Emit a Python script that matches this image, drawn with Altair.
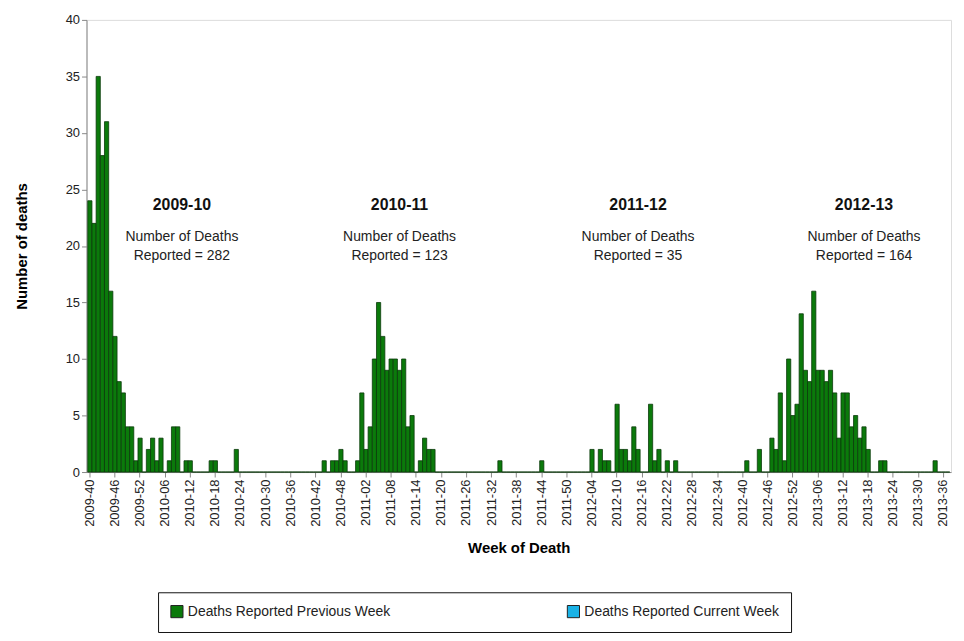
import pandas as pd
import altair as alt

# week labels 2009-40 .. 2013-37 (MMWR weeks, 52 per year)
weeks = [f"2009-{w:02d}" for w in range(40, 53)]
for yr in (2010, 2011, 2012):
    weeks += [f"{yr}-{w:02d}" for w in range(1, 53)]
weeks += [f"2013-{w:02d}" for w in range(1, 38)]

deaths = [0] * len(weeks)

# season 2009-10, starting at week index 0
s1_start = 0
s1 = [24, 22, 35, 28, 31, 16, 12, 8, 7, 4, 4, 1, 3, 0, 2, 3, 1, 3, 0, 1, 4, 4, 0, 1, 1,
      0, 0, 0, 0, 1, 1, 0, 0, 0, 0, 2]
# season 2010-11
s2_start = 56
s2 = [1, 0, 1, 1, 2, 1, 0, 0, 1, 7, 2, 4, 10, 15, 12, 9, 10, 10, 9, 10, 4, 5, 0, 1, 3, 2, 2]
# season 2011-12
s3_start = 98
s3 = [1, 0, 0, 0, 0, 0, 0, 0, 0, 0, 1, 0, 0, 0, 0, 0, 0, 0, 0, 0, 0, 0,
      2, 0, 2, 1, 1, 0, 6, 2, 2, 1, 4, 2, 0, 0, 6, 1, 2, 0, 1, 0, 1]
# season 2012-13
s4_start = 157
s4 = [1, 0, 0, 2, 0, 0, 3, 2, 7, 1, 10, 5, 6, 14, 9, 8, 16, 9, 9, 8, 9, 7, 3, 7, 7, 4, 5, 3, 4, 2,
      0, 0, 1, 1, 0, 0, 0, 0, 0, 0, 0, 0, 0, 0, 0, 1]

for start, vals in [(s1_start, s1), (s2_start, s2), (s3_start, s3), (s4_start, s4)]:
    for i, v in enumerate(vals):
        deaths[start + i] = v

tick_weeks = weeks[::6]

season_labels = ["2009-10", "2010-11", "2011-12", "2012-13"]
season_totals = [282, 123, 35, 164]
season_text_weeks = ["2010-10", "2011-10", "2012-15", "2013-17"]

df = pd.DataFrame({"week": weeks, "deaths": deaths,
                   "series": "Deaths Reported Previous Week"})
ann = pd.DataFrame({"week": season_text_weeks, "season": season_labels,
                    "line1": ["Number of Deaths"] * 4,
                    "line2": [f"Reported = {t}" for t in season_totals]})

FONT = "Liberation Sans"
x_enc = alt.X("week:O", sort=weeks, title="Week of Death",
              scale=alt.Scale(domain=weeks, paddingInner=0, paddingOuter=0.3),
              axis=alt.Axis(values=tick_weeks, labelAngle=-90, labelFontSize=13,
                            labelColor="#222", titleFontSize=15, titleFontWeight="bold",
                            titlePadding=14, domainColor="#888", tickColor="#888"))

bars = alt.Chart(df).mark_bar(stroke="#0b3a0b", strokeWidth=0.8).encode(
    x=x_enc,
    y=alt.Y("deaths:Q", title="Number of deaths",
            scale=alt.Scale(domain=[0, 40]),
            axis=alt.Axis(values=list(range(0, 41, 5)), grid=False, labelFontSize=13,
                          labelColor="#222", titleFontSize=15, titleFontWeight="bold",
                          titlePadding=36, domainColor="#888", tickColor="#888")),
    color=alt.Color("series:N", title=None,
                    scale=alt.Scale(domain=["Deaths Reported Previous Week",
                                            "Deaths Reported Current Week"],
                                    range=["#0b7a0b", "#1ab2e6"]),
                    legend=alt.Legend(orient="none", legendX=72, legendY=576,
                                      direction="horizontal", symbolType="square",
                                      symbolSize=150, symbolStrokeColor="#222",
                                      symbolStrokeWidth=1, labelFontSize=14,
                                      labelColor="#222", columnPadding=175,
                                      padding=12, strokeColor="#111",
                                      labelLimit=300, offset=0))
)

title_txt = alt.Chart(ann).mark_text(font=FONT, fontSize=16, fontWeight="bold",
                                     color="#111").encode(
    x=alt.X("week:O", sort=weeks), y=alt.datum(23.6), text="season:N")
l1 = alt.Chart(ann).mark_text(font=FONT, fontSize=14, color="#222").encode(
    x=alt.X("week:O", sort=weeks), y=alt.datum(20.8), text="line1:N")
l2 = alt.Chart(ann).mark_text(font=FONT, fontSize=14, color="#222").encode(
    x=alt.X("week:O", sort=weeks), y=alt.datum(19.1), text="line2:N")

chart = alt.layer(bars, title_txt, l1, l2).properties(
    width=870, height=455,
    padding={"left": 79, "top": 10, "right": 5, "bottom": 160},
    autosize=alt.AutoSizeParams(type="none"),
).configure_view(stroke=None).configure(font=FONT)

chart.save("out.html", embed_options={"renderer": "svg", "actions": False})
